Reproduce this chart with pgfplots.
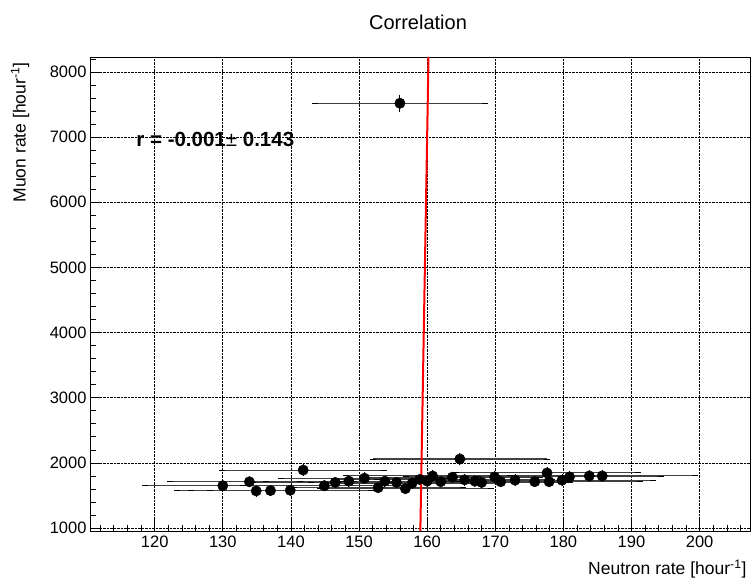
\documentclass[border=0pt]{standalone}
\usepackage{pgfplots}
\pgfplotsset{compat=1.18}
\usepackage{pgfplotstable}
\usepackage{fontspec}
\setmainfont{Liberation Sans}
\pgfplotstableread{
x y ex ey
156.0 7520 12.5 87
164.8 2060 12.8 45
141.8 1890 11.9 43
130.0 1650 11.4 41
133.9 1710 11.6 41
134.9 1570 11.6 40
137.0 1575 11.7 40
139.9 1580 11.8 40
144.9 1650 12.0 41
146.5 1700 12.1 41
148.5 1720 12.2 41
150.8 1765 12.3 42
152.8 1620 12.4 40
153.8 1720 12.4 41
155.5 1700 12.5 41
156.8 1605 12.5 40
157.8 1690 12.6 41
158.9 1745 12.6 42
160.0 1720 12.6 41
160.8 1800 12.7 42
162.0 1712 12.7 41
163.7 1780 12.8 42
165.5 1740 12.9 42
167.0 1720 12.9 41
168.0 1700 13.0 41
169.9 1785 13.0 42
170.8 1712 13.1 41
172.9 1735 13.1 42
175.8 1712 13.3 41
177.6 1846 13.3 43
177.9 1712 13.3 41
179.8 1735 13.4 42
180.9 1785 13.4 42
183.8 1800 13.6 42
185.7 1800 13.6 42
}\datatable
\begin{document}
\begin{tikzpicture}
\useasboundingbox (-90pt,-52pt) rectangle (665pt,531pt);
\begin{axis}[
  at={(0pt,0pt)}, anchor=south west,
  scale only axis, width=660pt, height=474pt,
  xmin=110.5, xmax=207.4, ymin=955, ymax=8230,
  xtick={120,130,...,200}, ytick={1000,2000,...,8000},
  minor xtick={112,114,...,206}, minor ytick={1000,1200,...,8200},
  xtick pos=bottom, ytick pos=left,
  tick align=inside, major tick length=12pt, minor tick length=6pt,
  xmajorgrids, ymajorgrids,
  major grid style={black, densely dotted, line width=0.7pt},
  axis line style={black, line width=0.9pt},
  tick style={black, line width=0.7pt},
  ticklabel style={font=\fontsize{16.5}{19}\selectfont},
  /pgf/number format/assume math mode=true,
  /pgf/number format/set thousands separator={},
  xticklabel style={yshift=-1pt},
  clip=true,
]
\addplot[only marks, mark=*, mark size=5.2pt, black,
  error bars/.cd, x dir=both, x explicit, y dir=both, y explicit,
  error bar style={line width=1.1pt, black!75},
  error mark options={black, mark size=3pt, line width=0.9pt}]
  table[x=x, y=y, x error=ex, y error=ey] {\datatable};
\addplot[red, line width=2pt] coordinates {(159.0,955) (160.2,8230)};
\node[anchor=west, font=\fontsize{20.5}{24}\selectfont\bfseries] at (axis cs:116.8,6970) {r = -0.001{\mdseries ±} 0.143};
\end{axis}
\node[font=\fontsize{20}{24}\selectfont] at (328pt,509pt) {Correlation};
\node[anchor=east, font=\fontsize{17.5}{21}\selectfont] at (660pt,-38pt) {Neutron rate [hour\textsuperscript{-1}]};
\node[anchor=east, rotate=90, font=\fontsize{17.5}{21}\selectfont] at (-70pt,472pt) {Muon rate [hour\textsuperscript{-1}]};
\end{tikzpicture}
\end{document}
